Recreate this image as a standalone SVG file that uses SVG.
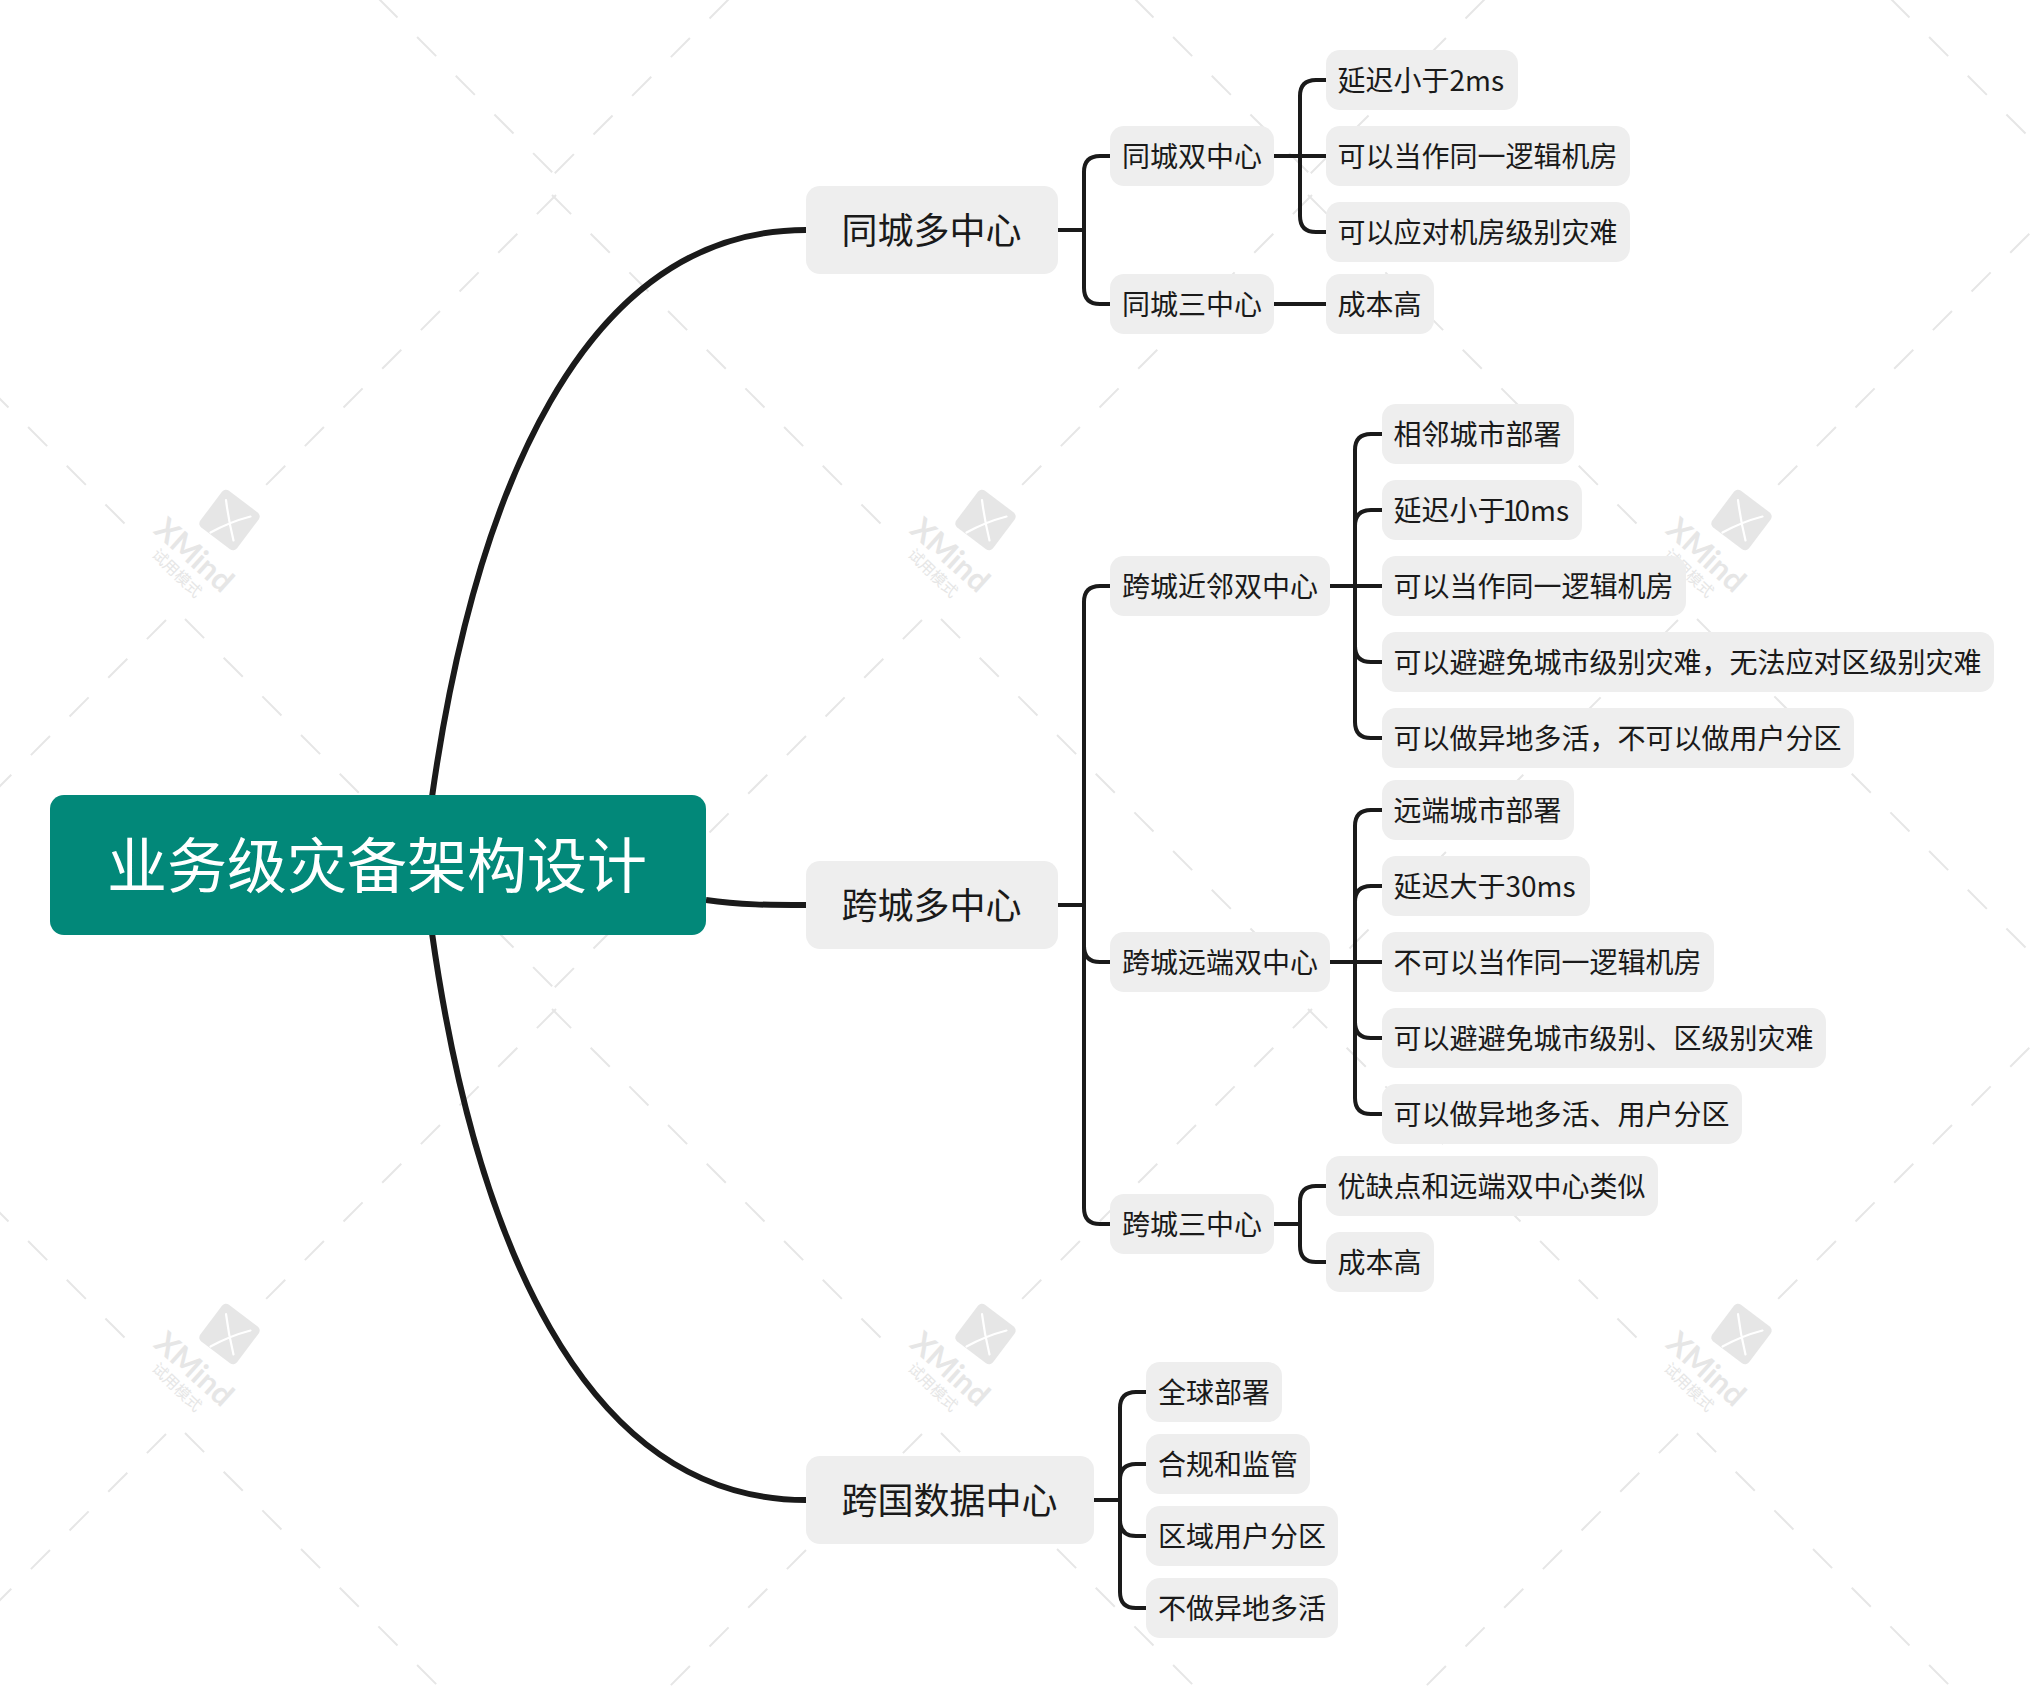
<svg xmlns="http://www.w3.org/2000/svg" width="2044" height="1688" viewBox="0 0 2044 1688">
<style>
text{font-family:"Noto Sans CJK SC","Noto Sans",sans-serif;fill:#1a1a1a}
.n rect{fill:#eeeeee}
.l1 text{font-size:36px}
.l2 text{font-size:28px}
.root rect{fill:#028879}
.root text{font-size:60px;fill:#ffffff}
#connectors path{fill:none;stroke:#1a1a1a;stroke-width:4}
#connectors path.main{stroke-width:6}
.dash{fill:none;stroke:#e6e6e6;stroke-width:2;stroke-dasharray:27 27.7}
.wmt{fill:#e6e6e6;font-family:"Lato","Noto Sans",sans-serif;font-size:31px;font-weight:700;text-anchor:middle}
.wms{fill:#e6e6e6;font-size:15.5px;text-anchor:middle}
</style>
<defs>
<g id="wm">
<path class="dash" d="M327,-326L37,-36"/>
<path class="dash" d="M-63,99L-432,468"/>
<path class="dash" d="M-433,-326L-104,3"/>
<path class="dash" d="M-44,98L325,467"/>
<g transform="translate(0.5,-1)">
<rect x="-23" y="-23" width="46" height="46" rx="5" fill="#e6e6e6" transform="rotate(37)"/>
<path d="M-3.5,-20Q-1,0 4,20.5M-19,12.5Q0,2 21,-3.5" fill="none" stroke="#ffffff" stroke-width="2.2" stroke-linecap="round"/>
</g>
<text class="wmt" transform="translate(-42,42) rotate(42)">XMind</text>
<text class="wms" transform="translate(-56,56) rotate(44)">试用模式</text>
</g>
</defs>
<rect width="2044" height="1688" fill="#ffffff"/>
<g id="watermark">
<use href="#wm" x="229" y="-293"/><use href="#wm" x="985" y="-293"/><use href="#wm" x="1741" y="-293"/>
<use href="#wm" x="229" y="521"/><use href="#wm" x="985" y="521"/><use href="#wm" x="1741" y="521"/>
<use href="#wm" x="229" y="1335"/><use href="#wm" x="985" y="1335"/><use href="#wm" x="1741" y="1335"/>
</g>
<g id="connectors">
<path class="main" d="M432,797C474,500 580,230 806,230"/>
<path class="main" d="M706,900C740,905 770,905 806,905"/>
<path class="main" d="M432,933C474,1230 580,1500 806,1500"/>
<path d="M1058,230H1084M1110,156H1100Q1084,156 1084,172V288Q1084,304 1100,304H1110"/>
<path d="M1274,156H1326M1326,80H1316Q1300,80 1300,96V216Q1300,232 1316,232H1326"/>
<path d="M1274,304H1326"/>
<path d="M1058,905H1084M1110,586H1100Q1084,586 1084,602V1208Q1084,1224 1100,1224H1110M1110,962H1100Q1084,962 1084,946"/>
<path d="M1330,586H1382M1382,434H1371Q1355,434 1355,450V722Q1355,738 1371,738H1382M1382,510H1371Q1355,510 1355,526M1382,662H1371Q1355,662 1355,646"/>
<path d="M1330,962H1382M1382,810H1371Q1355,810 1355,826V1098Q1355,1114 1371,1114H1382M1382,886H1371Q1355,886 1355,902M1382,1038H1371Q1355,1038 1355,1022"/>
<path d="M1274,1224H1300M1326,1186H1316Q1300,1186 1300,1202V1246Q1300,1262 1316,1262H1326"/>
<path d="M1094,1500H1120M1146,1392H1136Q1120,1392 1120,1408V1592Q1120,1608 1136,1608H1146M1146,1464H1136Q1120,1464 1120,1480M1146,1536H1136Q1120,1536 1120,1520"/>
</g>
<g id="root" class="n root"><rect x="50" y="795" width="656" height="140" rx="14"/><text x="107" y="888">业务级灾备架构设计</text></g>
<g id="n1" class="n l1"><rect x="806" y="186" width="252" height="88" rx="14"/><text x="841.5" y="243.5">同城多中心</text></g>
<g id="n2" class="n l1"><rect x="806" y="861" width="252" height="88" rx="14"/><text x="841.5" y="918.5">跨城多中心</text></g>
<g id="n3" class="n l1"><rect x="806" y="1456" width="288" height="88" rx="14"/><text x="841.5" y="1513.5">跨国数据中心</text></g>
<g id="n1a" class="n l2"><rect x="1110" y="126" width="164" height="60" rx="14"/><text x="1122" y="167">同城双中心</text></g>
<g id="n1b" class="n l2"><rect x="1110" y="274" width="164" height="60" rx="14"/><text x="1122" y="315">同城三中心</text></g>
<g id="n1a1" class="n l2"><rect x="1326" y="50" width="192" height="60" rx="14"/><text x="1337.5" y="91">延迟小于2ms</text></g>
<g id="n1a2" class="n l2"><rect x="1326" y="126" width="304" height="60" rx="14"/><text x="1337.5" y="167">可以当作同一逻辑机房</text></g>
<g id="n1a3" class="n l2"><rect x="1326" y="202" width="304" height="60" rx="14"/><text x="1337.5" y="243">可以应对机房级别灾难</text></g>
<g id="n1b1" class="n l2"><rect x="1326" y="274" width="108" height="60" rx="14"/><text x="1337.5" y="315">成本高</text></g>
<g id="n2a" class="n l2"><rect x="1110" y="556" width="220" height="60" rx="14"/><text x="1122" y="597">跨城近邻双中心</text></g>
<g id="n2a1" class="n l2"><rect x="1382" y="404" width="192" height="60" rx="14"/><text x="1393.5" y="445">相邻城市部署</text></g>
<g id="n2a2" class="n l2"><rect x="1382" y="480" width="200" height="60" rx="14"/><text x="1393.5" y="521">延迟小于<tspan dx="-3">1</tspan><tspan dx="-3.5">0ms</tspan></text></g>
<g id="n2a3" class="n l2"><rect x="1382" y="556" width="304" height="60" rx="14"/><text x="1393.5" y="597">可以当作同一逻辑机房</text></g>
<g id="n2a4" class="n l2"><rect x="1382" y="632" width="612" height="60" rx="14"/><text x="1393.5" y="673">可以避避免城市级别灾难，无法应对区级别灾难</text></g>
<g id="n2a5" class="n l2"><rect x="1382" y="708" width="472" height="60" rx="14"/><text x="1393.5" y="749">可以做异地多活，不可以做用户分区</text></g>
<g id="n2b" class="n l2"><rect x="1110" y="932" width="220" height="60" rx="14"/><text x="1122" y="973">跨城远端双中心</text></g>
<g id="n2b1" class="n l2"><rect x="1382" y="780" width="192" height="60" rx="14"/><text x="1393.5" y="821">远端城市部署</text></g>
<g id="n2b2" class="n l2"><rect x="1382" y="856" width="208" height="60" rx="14"/><text x="1393.5" y="897">延迟大于30ms</text></g>
<g id="n2b3" class="n l2"><rect x="1382" y="932" width="332" height="60" rx="14"/><text x="1393.5" y="973">不可以当作同一逻辑机房</text></g>
<g id="n2b4" class="n l2"><rect x="1382" y="1008" width="444" height="60" rx="14"/><text x="1393.5" y="1049">可以避避免城市级别、区级别灾难</text></g>
<g id="n2b5" class="n l2"><rect x="1382" y="1084" width="360" height="60" rx="14"/><text x="1393.5" y="1125">可以做异地多活、用户分区</text></g>
<g id="n2c" class="n l2"><rect x="1110" y="1194" width="164" height="60" rx="14"/><text x="1122" y="1235">跨城三中心</text></g>
<g id="n2c1" class="n l2"><rect x="1326" y="1156" width="332" height="60" rx="14"/><text x="1337.5" y="1197">优缺点和远端双中心类似</text></g>
<g id="n2c2" class="n l2"><rect x="1326" y="1232" width="108" height="60" rx="14"/><text x="1337.5" y="1273">成本高</text></g>
<g id="n3a" class="n l2"><rect x="1146" y="1362" width="136" height="60" rx="14"/><text x="1158" y="1403">全球部署</text></g>
<g id="n3b" class="n l2"><rect x="1146" y="1434" width="164" height="60" rx="14"/><text x="1158" y="1475">合规和监管</text></g>
<g id="n3c" class="n l2"><rect x="1146" y="1506" width="192" height="60" rx="14"/><text x="1158" y="1547">区域用户分区</text></g>
<g id="n3d" class="n l2"><rect x="1146" y="1578" width="192" height="60" rx="14"/><text x="1158" y="1619">不做异地多活</text></g>
</svg>
